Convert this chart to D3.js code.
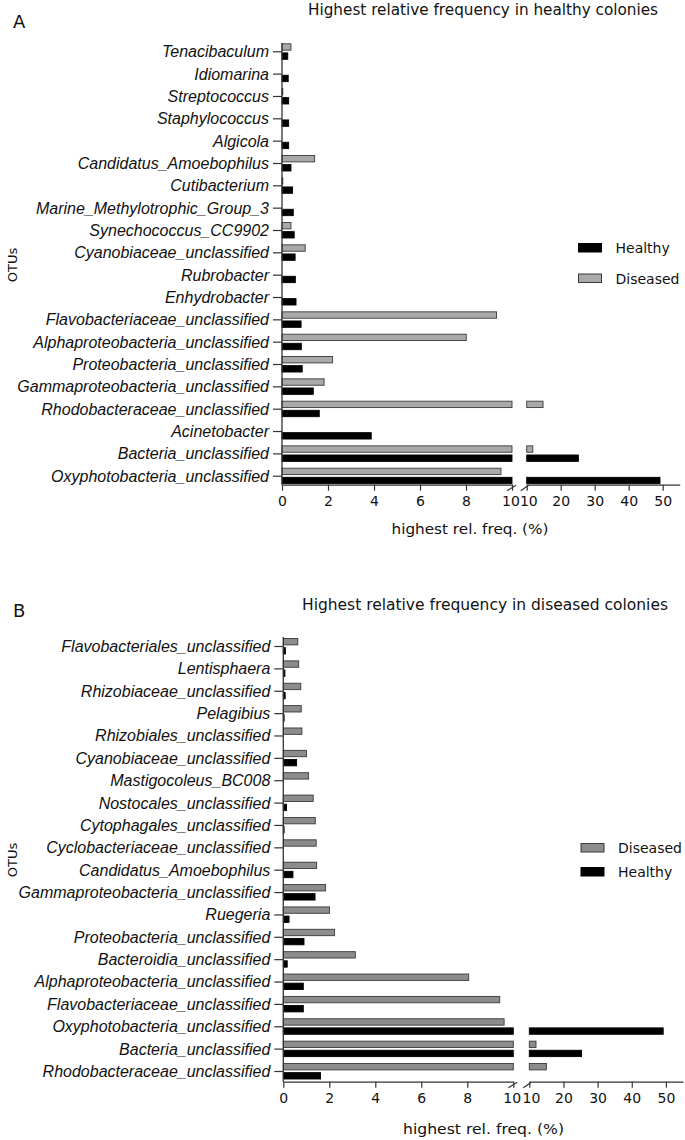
<!DOCTYPE html>
<html><head><meta charset="utf-8">
<script src="https://cdn.jsdelivr.net/npm/d3@7/dist/d3.min.js"></script>
<style>
body{margin:0;background:#fff;}
svg{display:block;}
</style></head>
<body>
<svg id="chart" width="685" height="1140"></svg>
<script>
// ---------- DATA ----------
const categoriesA = ["Tenacibaculum","Idiomarina","Streptococcus","Staphylococcus","Algicola","Candidatus_Amoebophilus","Cutibacterium","Marine_Methylotrophic_Group_3","Synechococcus_CC9902","Cyanobiaceae_unclassified","Rubrobacter","Enhydrobacter","Flavobacteriaceae_unclassified","Alphaproteobacteria_unclassified","Proteobacteria_unclassified","Gammaproteobacteria_unclassified","Rhodobacteraceae_unclassified","Acinetobacter","Bacteria_unclassified","Oxyphotobacteria_unclassified"];
const healthyA  = [0.25,0.27,0.29,0.29,0.29,0.39,0.46,0.49,0.53,0.57,0.58,0.61,0.83,0.84,0.88,1.36,1.62,3.88,25.2,49.2];
const diseasedA = [0.39,0,0.03,0,0,1.42,0.03,0,0.39,1.01,0,0,9.33,8.01,2.2,1.83,14.8,0,11.8,9.52];

const categoriesB = ["Flavobacteriales_unclassified","Lentisphaera","Rhizobiaceae_unclassified","Pelagibius","Rhizobiales_unclassified","Cyanobiaceae_unclassified","Mastigocoleus_BC008","Nostocales_unclassified","Cytophagales_unclassified","Cyclobacteriaceae_unclassified","Candidatus_Amoebophilus","Gammaproteobacteria_unclassified","Ruegeria","Proteobacteria_unclassified","Bacteroidia_unclassified","Alphaproteobacteria_unclassified","Flavobacteriaceae_unclassified","Oxyphotobacteria_unclassified","Bacteria_unclassified","Rhodobacteraceae_unclassified"];
const diseasedB = [0.63,0.67,0.76,0.78,0.81,1.01,1.1,1.3,1.39,1.43,1.45,1.84,2.01,2.23,3.13,8.06,9.41,9.6,11.96,15.0];
const healthyB  = [0.09,0.07,0.08,0.03,0,0.58,0,0.14,0.03,0,0.42,1.38,0.25,0.9,0.17,0.87,0.87,49.2,25.3,1.62];

const seriesNames = ["Diseased","Healthy"];
const legendOrderA = ["Healthy","Diseased"];
const legendOrderB = ["Diseased","Healthy"];
const ticksLow = [0,2,4,6,8,10];
const ticksHigh = [10,20,30,40,50];
const titleA = "Highest relative frequency in healthy colonies";
const titleB = "Highest relative frequency in diseased colonies";
const xTitle = "highest rel. freq. (%)";
const yTitle = "OTUs";

// ---------- DRAW ----------
const svg = d3.select("#chart");
const labelFont = "'Liberation Sans', Arial, sans-serif";
const tickFont = "'DejaVu Sans', sans-serif";

function panel(cfg){
  const g = svg.append("g");
  const y = d3.scalePoint().domain(cfg.cats).range([cfg.yTop, cfg.yBot]);
  const sub = d3.scaleBand().domain(seriesNames).range([-7.5, 8]).paddingInner(0.3);
  const xLo = d3.scaleLinear().domain([0,10]).range([cfg.x0, cfg.x10]);
  const xHi = d3.scaleLinear().domain([10,55]).range([cfg.x10b, cfg.xEnd]);
  const colors = {Healthy:"#000000", Diseased: cfg.gray};

  const rows = cfg.cats.map((c,i)=>({cat:c, Diseased:cfg.dis[i], Healthy:cfg.hea[i]}));
  const bars = [];
  rows.forEach(r=>{
    seriesNames.forEach(s=>{
      const v = r[s];
      if(v<=0) return;
      bars.push({cat:r.cat, s, a:xLo(0), b:xLo(Math.min(v,10))});
      if(v>10) bars.push({cat:r.cat, s, a:xHi(10), b:xHi(v)});
    });
  });
  g.selectAll("rect.bar").data(bars).join("rect")
    .attr("class","bar")
    .attr("x", d=>d.a)
    .attr("width", d=>Math.max(0.8, d.b-d.a))
    .attr("y", d=>y(d.cat)+sub(d.s))
    .attr("height", sub.bandwidth())
    .attr("fill", d=>colors[d.s])
    .attr("stroke", d=>d.s==="Healthy"?"#000":"#3a3a3a")
    .attr("stroke-width", 0.9);

  // y axis
  const yAx = g.append("g").attr("transform",`translate(${cfg.x0},0)`)
    .call(d3.axisLeft(y).tickSize(9).tickPadding(4));
  yAx.select(".domain").remove();
  yAx.selectAll(".tick line").attr("stroke","#333").attr("stroke-width",1.2);
  yAx.selectAll(".tick text").attr("font-family",labelFont).attr("font-style","italic")
     .attr("font-size",16).attr("fill","#111").attr("dy","0.34em");
  g.append("line").attr("x1",cfg.x0).attr("x2",cfg.x0).attr("y1",cfg.axTop).attr("y2",cfg.axY)
    .attr("stroke","#333").attr("stroke-width",1.3);

  // x axes (broken)
  const xa1 = g.append("g").attr("transform",`translate(0,${cfg.axY})`)
    .call(d3.axisBottom(xLo).tickValues(ticksLow).tickSize(6).tickSizeOuter(0).tickPadding(5));
  const xa2 = g.append("g").attr("transform",`translate(0,${cfg.axY})`)
    .call(d3.axisBottom(xHi).tickValues(ticksHigh).tickSize(6).tickSizeOuter(0).tickPadding(5));
  [xa1,xa2].forEach(a=>{
    a.select(".domain").attr("stroke","#333").attr("stroke-width",1.3);
    a.selectAll(".tick line").attr("stroke","#333").attr("stroke-width",1.2);
    a.selectAll(".tick text").attr("font-family",tickFont).attr("font-size",14).attr("fill","#111");
  });
  // nudge the two touching "10" labels apart a little
  xa1.selectAll(".tick text").filter(d=>d===10).attr("dx",-1.6);
  xa2.selectAll(".tick text").filter(d=>d===10).attr("dx",1.6);
  // break marks
  const e = xLo(10), s = xHi(10), yy = cfg.axY;
  g.append("line").attr("x1",e-5).attr("y1",yy+6).attr("x2",e+4).attr("y2",yy+0.5).attr("stroke","#333").attr("stroke-width",1.2);
  g.append("line").attr("x1",s-6).attr("y1",yy+6).attr("x2",s+2).attr("y2",yy+0.5).attr("stroke","#333").attr("stroke-width",1.2);

  // axis titles
  g.append("text").attr("x",cfg.xtX).attr("y",cfg.xtY).attr("font-family",tickFont).attr("font-size",14.5)
    .attr("fill","#111").attr("textLength",cfg.xtW).attr("lengthAdjust","spacingAndGlyphs").text(xTitle);
  g.append("text").attr("transform",`translate(17,${cfg.otuY}) rotate(-90)`).attr("text-anchor","middle")
    .attr("font-family",tickFont).attr("font-size",13).attr("fill","#111").text(yTitle);

  // title + letter
  g.append("text").attr("x",cfg.tX).attr("y",cfg.tY).attr("font-family",tickFont)
    .attr("font-size",16).attr("fill","#111")
    .attr("textLength",cfg.tW).attr("lengthAdjust","spacingAndGlyphs").text(cfg.title);
  g.append("text").attr("x",cfg.lX).attr("y",cfg.lY).attr("font-family",tickFont)
    .attr("font-size",18).attr("fill","#111").text(cfg.letter);

  // legend
  const lg = g.append("g");
  cfg.legend.forEach((name,i)=>{
    const ly = cfg.legY + i*cfg.legStep;
    lg.append("rect").attr("x",cfg.legX).attr("y",ly-4.5).attr("width",23).attr("height",8.5)
      .attr("fill",colors[name]).attr("stroke",name==="Healthy"?"#000":"#3a3a3a").attr("stroke-width",1);
    lg.append("text").attr("x",cfg.legX+37).attr("y",ly).attr("dy","0.36em")
      .attr("font-family",tickFont).attr("font-size",14).attr("fill","#111").text(name);
  });
}

panel({cats:categoriesA, dis:diseasedA, hea:healthyA, gray:"#a9a9a9",
  yTop:51.3, yBot:475.7, axTop:43, axY:484.7,
  x0:282, x10:512, x10b:526.7, xEnd:679.7,
  xtX:391.5, xtY:534, xtW:157, otuY:265,
  title:titleA, tX:308, tY:15, tW:350, letter:"A", lX:13, lY:28,
  legend:legendOrderA, legX:578.5, legY:248, legStep:30.5});

panel({cats:categoriesB, dis:diseasedB, hea:healthyB, gray:"#8c8c8c",
  yTop:646, yBot:1071, axTop:637, axY:1081.7,
  x0:283.3, x10:513.3, x10b:529.3, xEnd:683,
  xtX:403, xtY:1134, xtW:161, otuY:860,
  title:titleB, tX:302, tY:610, tW:366, letter:"B", lX:13, lY:617,
  legend:legendOrderB, legX:581, legY:848, legStep:24});
</script>
</body></html>
